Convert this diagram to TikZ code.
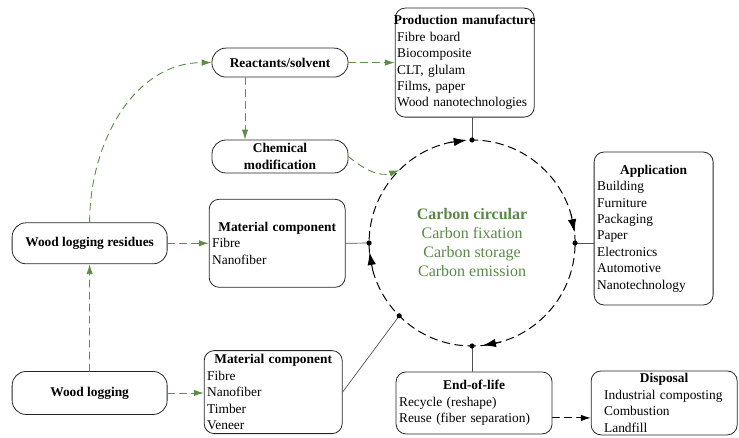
\documentclass[tikz,border=0pt]{standalone}
\usepackage{fontspec}
\setmainfont{Liberation Serif}
\usetikzlibrary{arrows.meta}
\definecolor{flowG}{RGB}{92,142,72}
\definecolor{textG}{RGB}{88,138,70}
\definecolor{lineK}{RGB}{80,80,80}
\newcommand{\hd}[1]{\makebox[\hsize][c]{\textbf{#1}}\\}

\begin{document}
\begin{tikzpicture}[>={Latex[length=10pt,width=6.5pt]}, line cap=round,
  box/.style={draw=black!85, line width=0.8pt, rounded corners=10pt, inner xsep=3pt, inner ysep=1.5pt, align=left, font=\fontsize{13.4}{16.4}\selectfont},
  pill/.style={draw=black!85, line width=0.8pt, rounded corners=14pt, inner sep=2pt, align=center, font=\fontsize{13.4}{16.4}\selectfont\bfseries},
  gflow/.style={->, draw=flowG, line width=0.9pt, dash pattern=on 7pt off 5pt},
  kflow/.style={->, line width=0.9pt, dash pattern=on 7pt off 5pt},
  cyctip/.style={-{Latex[length=13pt,width=8.5pt]}, line width=1pt},
  link/.style={draw=lineK, line width=0.7pt}]
\useasboundingbox (0,0) rectangle (25.97,15.36);
% 左侧：原料
\node[pill, minimum width=155pt, minimum height=41pt] (resid) at (3.15,6.81) {Wood logging residues};
\node[pill, minimum width=155pt, minimum height=43pt] (log) at (3.15,1.55) {Wood logging};
\node[pill, minimum width=136pt, minimum height=29pt] (react) at (9.84,13.16) {Reactants/solvent};
\node[pill, minimum width=136pt, minimum height=33pt] (chem) at (9.84,9.86) {Chemical\\modification};
% 材料组分
\node[box, text width=130pt, minimum height=88pt] (mat1) at (9.74,6.81) {\hd{Material component}Fibre\\Nanofiber};
\node[box, text width=132pt, minimum height=83pt] (mat2) at (9.60,1.58) {\hd{Material component}Fibre\\Nanofiber\\Timber\\Veneer};
% 碳循环
\node[draw, circle, dash pattern=on 8pt off 5pt, line width=1pt, minimum size=206pt, inner sep=0pt, outer sep=0pt, text=textG, align=center, font=\fontsize{16}{19}\selectfont] (cyc) at (16.59,6.82) {\textbf{Carbon circular}\\Carbon fixation\\Carbon storage\\Carbon emission};
% 产品与去向
\node[box, inner xsep=2pt, text width=135pt, minimum height=109pt] (prod) at (16.33,13.16) {\hd{Production manufacture}Fibre board\\Biocomposite\\CLT, glulam\\Films, paper\\Wood nanotechnologies};
\node[box, text width=113pt, minimum height=153pt] (app) at (22.97,7.33) {\hd{Application}Building\\Furniture\\Packaging\\Paper\\Electronics\\Automotive\\Nanotechnology};
\node[box, text width=150pt, minimum height=62pt] (eol) at (16.66,1.20) {\hd{End-of-life}Recycle (reshape)\\Reuse (fiber separation)};
\node[box, inner xsep=13pt, text width=120pt, minimum height=64pt] (disp) at (23.34,1.20) {\hd{Disposal}Industrial composting\\Combustion\\Landfill};
% 绿色流程箭头
\draw[gflow] (log.north) -- (resid.south);
\draw[gflow] (resid.north) to[out=90, in=180] (react.west);
\draw[gflow] (react.east) -- (react.east -| prod.west);
\draw[gflow] ([xshift=-35pt]react.south) -- ([xshift=-35pt]react.south |- chem.north);
\draw[gflow] (chem.east) to[out=-40, in=200] (cyc.135);
\draw[gflow] (resid.east) -- (mat1.west);
\draw[gflow] (log.east) -- (log.east -| mat2.west);
\draw[kflow] ([yshift=-15pt]eol.east) -- ([yshift=-15pt]eol.east -| disp.west);
% 连接线
\draw[link] (prod.south -| cyc.north) -- (cyc.north);
\draw[link] (mat1.east) -- (cyc.west);
\draw[link] (cyc.east) -- (cyc.east -| app.west);
\draw[link] (mat2.east) -- (cyc.225);
\draw[link] (cyc.south) -- (cyc.south |- eol.north);
% 圆上的箭头与点
\draw[cyctip] (cyc.103) -- (cyc.93);
\draw[cyctip] (cyc.16) -- (cyc.6);
\draw[cyctip] (cyc.286) -- (cyc.276);
\draw[cyctip] (cyc.195) -- (cyc.185);
\foreach \a in {north,east,south,west,225} \fill (cyc.\a) circle (2.6pt);
\end{tikzpicture}
\end{document}
